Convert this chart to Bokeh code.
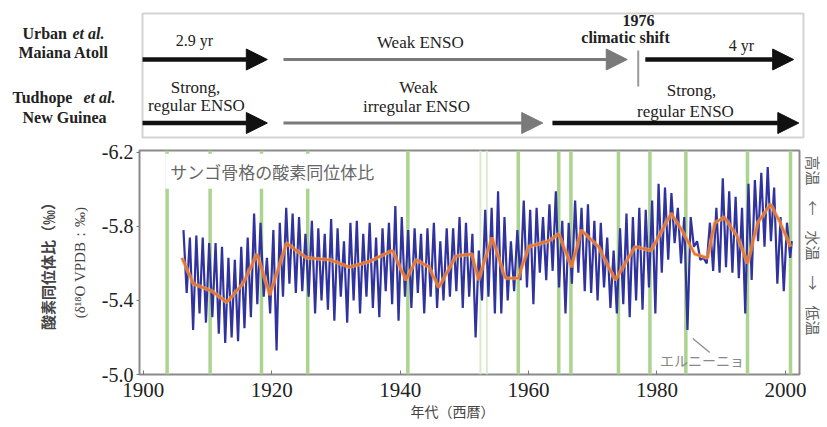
import math
from bokeh.plotting import figure
from bokeh.layouts import column, row
from bokeh.models import (Range1d, Label, Arrow, NormalHead, FixedTicker, PrintfTickFormatter,
                          Title, BoxAnnotation)
from bokeh.embed import file_html
from bokeh.resources import INLINE

# ---------------- data ----------------
blue_years = list(range(1906, 2001))
# most negative value (warm peak) of each year
blue_top = [-5.78, -5.74, -5.75, -5.74, -5.71, -5.71, -5.69, -5.63, -5.62, -5.69,
            -5.74, -5.87, -5.82, -5.63, -5.78, -5.82, -5.90, -5.87, -5.85, -5.76,
            -5.83, -5.79, -5.76, -5.84, -5.79, -5.72, -5.82, -5.83, -5.76, -5.82,
            -5.74, -5.79, -5.82, -5.91, -5.85, -5.78, -5.79, -5.76, -5.79, -5.82,
            -5.72, -5.79, -5.79, -5.85, -5.82, -5.76, -5.67, -5.89, -5.90, -5.99,
            -5.85, -5.72, -5.78, -5.94, -5.89, -5.90, -5.85, -5.92, -5.99, -5.83,
            -5.82, -5.94, -5.90, -5.92, -5.83, -5.82, -5.74, -5.67, -5.79, -5.87,
            -5.85, -5.90, -5.89, -5.94, -6.03, -6.01, -5.98, -5.90, -5.85, -5.85,
            -5.72, -5.63, -5.82, -5.90, -6.06, -5.99, -5.96, -5.90, -6.03, -6.05,
            -6.09, -6.12, -6.01, -5.85, -5.82]
# least negative value (cool trough) of each year
blue_bottom = [-5.44, -5.24, -5.33, -5.28, -5.31, -5.22, -5.17, -5.20, -5.18, -5.25,
               -5.31, -5.38, -5.42, -5.33, -5.13, -5.42, -5.49, -5.44, -5.45, -5.42,
               -5.33, -5.40, -5.35, -5.29, -5.42, -5.28, -5.40, -5.33, -5.42, -5.36,
               -5.31, -5.45, -5.38, -5.29, -5.42, -5.36, -5.44, -5.33, -5.42, -5.36,
               -5.40, -5.42, -5.45, -5.36, -5.42, -5.20, -5.40, -5.42, -5.33, -5.33,
               -5.40, -5.45, -5.51, -5.47, -5.38, -5.55, -5.51, -5.56, -5.47, -5.33,
               -5.49, -5.55, -5.45, -5.44, -5.40, -5.47, -5.36, -5.33, -5.38, -5.31,
               -5.40, -5.35, -5.47, -5.33, -5.55, -5.62, -5.71, -5.60, -5.24, -5.69,
               -5.62, -5.60, -5.56, -5.55, -5.58, -5.55, -5.52, -5.33, -5.51, -5.72,
               -5.69, -5.72, -5.49, -5.45, -5.63]
blue_last_year = 2001.0
blue_last_value = -5.72

orange_years = [1906.0, 1907.8, 1910.7, 1913.0, 1915.5, 1917.7, 1919.7, 1922.3, 1925.4, 1929.0,
                1932.1, 1935.2, 1938.8, 1940.9, 1942.5, 1944.5, 1946.0, 1948.7, 1951.2, 1952.2,
                1954.3, 1956.4, 1958.4, 1960.0, 1963.1, 1964.7, 1966.7, 1968.2, 1970.9, 1973.5,
                1976.6, 1979.1, 1982.2, 1983.7, 1985.9, 1987.9, 1989.0, 1990.5, 1992.6, 1994.1,
                1995.7, 1997.7, 1999.2, 2000.8]
orange_values = [-5.63, -5.49, -5.45, -5.39, -5.49, -5.65, -5.43, -5.71, -5.63, -5.62,
                 -5.58, -5.61, -5.67, -5.51, -5.62, -5.58, -5.47, -5.64, -5.65, -5.51,
                 -5.74, -5.52, -5.52, -5.69, -5.72, -5.76, -5.58, -5.78, -5.69, -5.51,
                 -5.69, -5.67, -5.87, -5.79, -5.65, -5.63, -5.82, -5.85, -5.74, -5.60,
                 -5.82, -5.92, -5.82, -5.69]

elnino_years = [1903.7, 1910.4, 1918.4, 1925.6, 1941.2, 1958.4, 1964.7, 1966.6,
                1974.0, 1978.9, 1984.5, 1994.1, 2000.8]
elnino_faint_years = [1952.5, 1953.5]

x_ticks = [1900, 1920, 1940, 1960, 1980, 2000]
y_ticks = [-6.2, -5.8, -5.4, -5.0]

# ENSO regimes (start year, end year, kind)
urban_start = [1899.85, 1921.7, 1977.8]
urban_end = [1919.2, 1975.0, 2000.8]
urban_kind = ["strong", "weak", "strong"]
tudhope_start = [1899.85, 1921.7, 1963.4]
tudhope_end = [1919.2, 1961.9, 2001.6]
tudhope_kind = ["strong", "weak", "strong"]
shift_year = 1976.7

# ---------------- helpers (page pixel -> data, for annotations) ----------------
def yr(px):
    return 1900 + (px - 143) / 6.45

def val(py):
    return -6.2 + (py - 152) / 185.0

def tv(py):
    return (138 - py) / 125.0

SERIF = "Liberation Serif"
CJK = "Noto Sans CJK JP"
W = 826
LW = 139      # width of the left label strip of the top panel
TH = 140      # height of the top panel

def bare(fig):
    fig.grid.visible = False
    fig.outline_line_color = None
    fig.background_fill_color = "white"
    fig.border_fill_color = "white"

# ---------------- top panel: left labels ----------------
left = figure(width=LW, height=TH, x_range=Range1d(0, LW), y_range=Range1d(tv(TH), tv(0)),
              output_backend="svg", toolbar_location=None,
              x_axis_location=None, y_axis_location=None,
              min_border_left=0, min_border_right=0, min_border_top=0, min_border_bottom=0)
bare(left)

def llabel(text, px, py, style):
    left.add_layout(Label(x=px, y=tv(py), text=text, text_font=SERIF, text_font_size="16px",
                          text_font_style=style, text_align="left", text_baseline="middle",
                          text_color="#222222"))

llabel("Urban", 22, 33, "bold")
llabel("et al.", 72, 33, "bold italic")
llabel("Maiana Atoll", 18, 52, "bold")
llabel("Tudhope", 12, 97, "bold")
llabel("et al.", 83, 97, "bold italic")
llabel("New Guinea", 22, 117, "bold")

# ---------------- top panel: regimes ----------------
top = figure(width=W - LW, height=TH, x_range=Range1d(yr(LW), yr(W)),
             y_range=Range1d(tv(TH), tv(0)),
             output_backend="svg", toolbar_location=None,
             x_axis_location=None, y_axis_location=None,
             min_border_left=0, min_border_right=0, min_border_top=0, min_border_bottom=0)
bare(top)
top.add_layout(BoxAnnotation(left=yr(142), right=yr(803), bottom=tv(137), top=tv(13),
                             fill_alpha=0, line_color="#6e6e6e", line_width=2))

colors = {"strong": "#111111", "weak": "#7a7a7a"}
widths = {"strong": 4.5, "weak": 3}

for starts, ends, kinds, py in [(urban_start, urban_end, urban_kind, 59),
                                (tudhope_start, tudhope_end, tudhope_kind, 122.5)]:
    for s, e, k in zip(starts, ends, kinds):
        c = colors[k]
        top.add_layout(Arrow(end=NormalHead(size=21, fill_color=c, line_color=c, line_width=1),
                             x_start=s, y_start=tv(py), x_end=e, y_end=tv(py),
                             line_color=c, line_width=widths[k]))

top.segment(x0=[shift_year], y0=[tv(50)], x1=[shift_year], y1=[tv(86)],
            line_color="#9a9a9a", line_width=2)

def tlabel(text, px, py, size, style="normal"):
    top.add_layout(Label(x=yr(px), y=tv(py), text=text, text_font=SERIF,
                         text_font_size=f"{size}px", text_font_style=style,
                         text_align="center", text_baseline="middle", text_color="#222222"))

tlabel("2.9 yr", 194, 40, 16)
tlabel("Weak  ENSO", 422, 42, 17)
tlabel("1976", 638, 20, 16, "bold")
tlabel("climatic shift", 625, 37, 16, "bold")
tlabel("4 yr", 741, 45, 16)
tlabel("Strong,", 195, 87, 17)
tlabel("regular ENSO", 196, 105, 17)
tlabel("Weak", 418, 87, 17)
tlabel("irregular ENSO", 416, 106, 17)
tlabel("Strong,", 691, 90, 17)
tlabel("regular ENSO", 685, 111, 17)

# ---------------- main chart ----------------
p = figure(width=W, height=426 - TH, x_range=Range1d(1899.4, 2002.2), y_range=Range1d(-5.0, -6.21),
           output_backend="svg", toolbar_location=None,
           min_border_left=139, min_border_right=W - 802, min_border_top=150 - TH,
           min_border_bottom=52)
p.grid.visible = False
p.outline_line_color = "#8a8a8a"
p.outline_line_width = 2
p.background_fill_color = "white"
p.border_fill_color = "white"

# El Nino years
p.segment(x0=elnino_faint_years, y0=[-5.0] * len(elnino_faint_years),
          x1=elnino_faint_years, y1=[-6.21] * len(elnino_faint_years),
          line_color="#d9ebcc", line_width=2)
p.segment(x0=elnino_years, y0=[-5.0] * len(elnino_years),
          x1=elnino_years, y1=[-6.21] * len(elnino_years),
          line_color="#acd38f", line_width=3.5)

# coral oxygen isotope series
bx, bv = [], []
for y, t, b in zip(blue_years, blue_top, blue_bottom):
    bx += [y + 0.25, y + 0.75]
    bv += [t, b]
bx.append(blue_last_year)
bv.append(blue_last_value)
p.line(bx, bv, line_color="#30329e", line_width=2.2)
p.line(orange_years, orange_values, line_color="#f2b45a", line_width=4, line_alpha=0.6)
p.line(orange_years, orange_values, line_color="#ea7436", line_width=2.2)

# axes
p.xaxis.ticker = FixedTicker(ticks=x_ticks)
p.yaxis.ticker = FixedTicker(ticks=y_ticks)
p.yaxis.formatter = PrintfTickFormatter(format="%.1f")
for ax in (p.xaxis, p.yaxis):
    ax.axis_line_color = None
    ax.major_tick_line_color = "#777777"
    ax.minor_tick_line_color = None
    ax.major_label_text_font = SERIF
    ax.major_label_text_color = "#222222"
p.xaxis.major_tick_in = 4
p.xaxis.major_tick_out = 0
p.xaxis.major_label_standoff = 8
p.xaxis.major_label_text_font_size = "21px"
p.yaxis.major_tick_in = 0
p.yaxis.major_tick_out = 3
p.yaxis.major_label_standoff = 3
p.yaxis.major_label_text_font_size = "20px"

# axis titles (side panels)
p.add_layout(Title(text="(δ¹⁸O VPDB：‰)", text_font=SERIF, text_font_size="15px",
                   text_font_style="normal", text_color="#444444", align="center",
                   vertical_align="middle", standoff=20), "left")
p.add_layout(Title(text="酸素同位体比（‰）", text_font=CJK, text_font_size="15px",
                   text_font_style="bold", text_color="#444444", align="center",
                   vertical_align="middle", standoff=4), "left")
p.add_layout(Title(text="高温　←　水温　→　低温", text_font=CJK, text_font_size="15px",
                   text_font_style="normal", text_color="#666666", align="left", offset=5,
                   vertical_align="middle", standoff=4), "right")
p.add_layout(Title(text="年代（西暦）", text_font=CJK, text_font_size="14px",
                   text_font_style="normal", text_color="#444444", align="left", offset=271,
                   vertical_align="middle", standoff=0), "below")

def plabel(text, px, py, size, align="center", color="#444444", **kw):
    p.add_layout(Label(x=yr(px), y=val(py), text=text, text_font=CJK,
                       text_font_size=f"{size}px", text_align=align, text_baseline="middle",
                       text_color=color, **kw))

# in-plot title
plabel("サンゴ骨格の酸素同位体比", 165, 171, 17, align="left", color="#666666",
       background_fill_color="white", padding=5)
# El Nino annotation
p.add_layout(Arrow(end=None, x_start=yr(695), y_start=val(338), x_end=yr(712), y_end=val(352),
                   line_color="#8a8a8a", line_width=1.2))
plabel("エルニーニョ", 662, 360, 14, align="left", color="#888888")

layout = column(row(left, top), p)
open("out.html", "w").write(file_html(layout, INLINE))
